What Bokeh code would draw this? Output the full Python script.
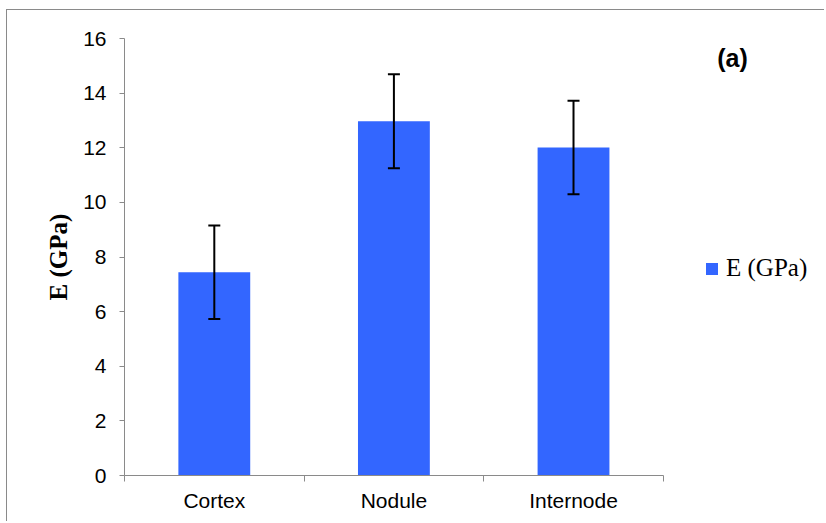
from bokeh.plotting import figure
from bokeh.models import (ColumnDataSource, Whisker, TeeHead, FixedTicker, Range1d,
                          Legend, LegendItem, Label)
from bokeh.embed import file_html
from bokeh.resources import INLINE

categories = ["Cortex", "Nodule", "Internode"]
e_values = [7.44, 12.97, 12.01]
e_errors = [1.71, 1.72, 1.71]
y_ticks = [0, 2, 4, 6, 8, 10, 12, 14, 16]
series_name = "E (GPa)"
panel_tag = "(a)"

n = len(categories)
xs = [i + 0.5 for i in range(n)]
src = ColumnDataSource(dict(
    x=xs, top=e_values,
    upper=[v + e for v, e in zip(e_values, e_errors)],
    lower=[v - e for v, e in zip(e_values, e_errors)],
))

# frame is extended to the right so that the legend and the tag sit inside it;
# the axis line itself is bounded to the categories
p = figure(width=818, height=512, output_backend="svg", toolbar_location=None,
           x_range=Range1d(0, 3.903), y_range=Range1d(0, 16),
           min_border_left=117, min_border_right=0, min_border_top=28,
           min_border_bottom=47)
p.margin = (9, 0, 0, 6)
p.styles = {"border-left": "1px solid #8a8a8a", "border-top": "1px solid #8a8a8a"}
p.outline_line_color = None
p.xgrid.visible = False
p.ygrid.visible = False

bars = p.vbar(x="x", top="top", width=0.4, source=src, fill_color="#3366FF",
              line_color=None)

w = Whisker(base="x", upper="upper", lower="lower", source=src,
            line_color="black", line_width=2, level="overlay",
            upper_head=TeeHead(size=12, line_color="black", line_width=2),
            lower_head=TeeHead(size=12, line_color="black", line_width=2))
p.add_layout(w)

axis_color = "#8a8a8a"
# x axis
p.xaxis.bounds = (0, n)
p.xaxis.ticker = FixedTicker(ticks=xs, minor_ticks=list(range(n + 1)))
p.xaxis.major_label_overrides = {x: c for x, c in zip(xs, categories)}
p.xaxis.major_tick_out = 0
p.xaxis.major_tick_in = 0
p.xaxis.minor_tick_out = 6
p.xaxis.minor_tick_in = 0
p.xaxis.minor_tick_line_color = axis_color
p.xaxis.axis_line_color = axis_color
p.xaxis.major_label_text_font = "Liberation Sans"
p.xaxis.major_label_text_font_size = "21px"
p.xaxis.major_label_text_color = "black"
p.xaxis.major_label_standoff = 7

# y axis
p.yaxis.ticker = FixedTicker(ticks=y_ticks, minor_ticks=[])
p.yaxis.major_tick_out = 5
p.yaxis.major_tick_in = 0
p.yaxis.major_tick_line_color = axis_color
p.yaxis.axis_line_color = axis_color
p.yaxis.major_label_text_font = "Liberation Sans"
p.yaxis.major_label_text_font_size = "21px"
p.yaxis.major_label_text_color = "black"
p.yaxis.major_label_standoff = 13
p.yaxis.axis_label = series_name
p.yaxis.axis_label_text_font = "Liberation Serif"
p.yaxis.axis_label_text_font_style = "bold"
p.yaxis.axis_label_text_font_size = "25px"
p.yaxis.axis_label_text_color = "black"
p.yaxis.axis_label_standoff = 8

legend = Legend(items=[LegendItem(label=series_name, renderers=[bars])],
                location=(580, 193), padding=0, margin=0, border_line_color=None,
                background_fill_alpha=0, glyph_width=15, glyph_height=15,
                label_standoff=7, label_text_font="Liberation Serif",
                label_text_font_size="25px", label_text_color="black")
p.add_layout(legend)

p.add_layout(Label(x=3.30, y=15.27, text=panel_tag, text_font="Liberation Sans",
                   text_font_style="bold", text_font_size="25px",
                   text_baseline="middle", text_align="left", text_color="black"))

open("out.html", "w").write(file_html(p, INLINE))
